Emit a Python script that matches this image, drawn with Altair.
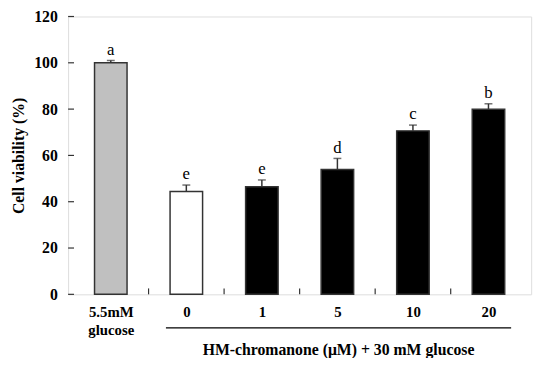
import json
import altair as alt
import pandas as pd

labels = ["5.5mM|glucose", "0", "1", "5", "10", "20"]
groups = ["normal", "high", "treated", "treated", "treated", "treated"]
viability = [100.0, 44.4, 46.5, 53.9, 70.6, 79.9]
errors = [1.0, 2.8, 2.9, 4.8, 2.5, 2.4]
letters = ["a", "e", "e", "d", "c", "b"]
y_ticks = [0, 20, 40, 60, 80, 100, 120]

FONT = "Liberation Serif"
W, H = 470, 282

df = pd.DataFrame({
    "pos": [i + 0.5 for i in range(len(labels))],
    "label": labels,
    "group": groups,
    "val": viability,
    "err": errors,
    "top": [v + e for v, e in zip(viability, errors)],
    "letter": letters,
})

xscale = alt.Scale(domain=[0, len(labels)], nice=False, zero=False)
yscale = alt.Scale(domain=[0, 120], nice=False)

label_js = json.dumps(labels)
xaxis = alt.Axis(
    values=list(df["pos"]),
    labelExpr=f"split({label_js}[floor(datum.value)], '|')",
    ticks=False, domain=False, grid=False,
    labelFont=FONT, labelFontSize=15, labelFontWeight="bold", labelColor="black",
    labelPadding=11, labelBaseline="top", labelLineHeight=18, labelAngle=0,
    title="HM-chromanone (\u03bcM) + 30 mM glucose",
    titleFont=FONT, titleFontSize=16, titleFontWeight="bold", titleColor="black",
    titleX=274, titleY=56, titleAlign="center", titleBaseline="middle",
)
yaxis = alt.Axis(
    values=y_ticks, ticks=False, domain=False, grid=False,
    labelFont=FONT, labelFontSize=16, labelFontWeight="bold", labelColor="black",
    labelPadding=11,
    title="Cell viability (%)", titleFont=FONT, titleFontSize=16,
    titleFontWeight="bold", titleColor="black",
    titleX=-50, titleY=141, titleAngle=-90, titleAlign="center", titleBaseline="middle",
)

base = alt.Chart(df)

bars = base.mark_bar(size=33, stroke="#333", strokeWidth=1.5).encode(
    x=alt.X("pos:Q", scale=xscale, axis=xaxis),
    y=alt.Y("val:Q", scale=yscale, axis=yaxis),
    fill=alt.Fill("group:N", scale=alt.Scale(domain=["normal", "high", "treated"],
                                              range=["#c0c0c0", "#ffffff", "#000000"]),
                  legend=None),
)

err_line = base.mark_rule(color="#333", strokeWidth=1.5).encode(
    x="pos:Q", y="val:Q", y2="top:Q")
err_cap = base.mark_tick(orient="horizontal", size=8, thickness=1.5, color="#333").encode(
    x="pos:Q", y="top:Q")
letter_text = base.mark_text(font=FONT, fontSize=17, dy=-6, baseline="alphabetic",
                             color="black").encode(
    x="pos:Q", y="top:Q", text="letter:N")

# inward y ticks
ytick_df = pd.DataFrame({"v": y_ticks})
yticks = alt.Chart(ytick_df).mark_rule(color="#333", strokeWidth=1.2).encode(
    y="v:Q", x=alt.value(0), x2=alt.value(6))

# inward x ticks at band boundaries
xtick_df = pd.DataFrame({"b": list(range(1, len(labels)))})
xticks = alt.Chart(xtick_df).mark_rule(color="#333", strokeWidth=1.2).encode(
    x="b:Q", y=alt.value(H), y2=alt.value(H - 6))

# underline below treatment group labels
ul_df = pd.DataFrame({"x1": [df["pos"][1] - 0.27], "x2": [df["pos"][5] + 0.30]})
underline = alt.Chart(ul_df).mark_rule(color="black", strokeWidth=1.2).encode(
    x="x1:Q", x2="x2:Q", y=alt.value(H + 34))

chart = alt.layer(bars, err_line, err_cap, letter_text, yticks, xticks, underline).properties(
    width=W, height=H,
    autosize=alt.AutoSizeParams(type="none"),
    padding={"left": 61, "top": 6, "right": 11, "bottom": 62},
).configure_view(stroke="#222", strokeWidth=1.5).configure(background="white")

chart.save("out.html", embed_options={"renderer": "svg", "actions": False})
